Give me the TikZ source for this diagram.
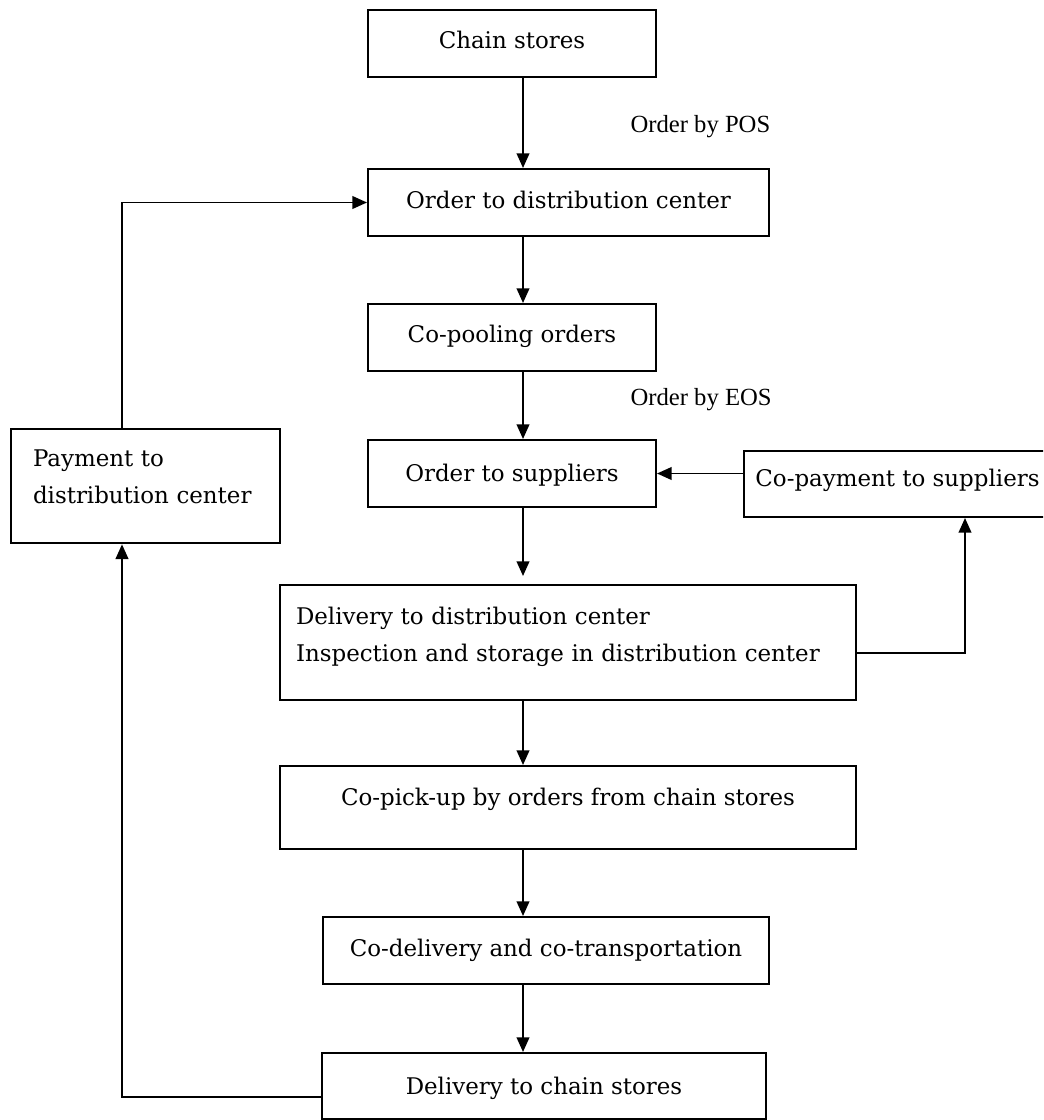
\documentclass[tikz,border=0pt]{standalone}
\usepackage{fontspec}
\setmainfont{DejaVu Serif}
\newfontfamily\lblfont{Liberation Serif}
\usetikzlibrary{arrows.meta}

\newcommand{\boxfont}{\fontsize{17.2}{28}\selectfont}
\newcommand{\notefont}{\lblfont\fontsize{18.5}{22}\selectfont}

\tikzset{every picture/.style={line width=0.75pt}}
\tikzset{
  box/.style={draw, line width=1.5pt, anchor=north west, inner xsep=0pt, inner ysep=0pt, font=\boxfont},
  flow/.style={line width=1.4pt, -{Triangle[length=11pt,width=9.5pt]}},
  note/.style={anchor=west, inner sep=0pt, font=\notefont}
}

\begin{document}
\begin{tikzpicture}[x=0.75pt,y=0.75pt,yscale=-1,xscale=1]
\useasboundingbox (0,0) rectangle (1043,1120);
\clip (0,0) rectangle (1043,1120);

%Coordinates for the connectors
\coordinate (spine) at (523,0);
\coordinate (lft) at (122,1097);
\coordinate (rgt) at (965,653);

%Shape: Rectangle
\node [box, minimum width=216pt, text height=29.25pt, text depth=21pt] (chain) at (367,9) {Chain stores};
%Shape: Rectangle
\node [box, minimum width=300.75pt, text height=30pt, text depth=20.25pt] (odc) at (367,168) {Order to distribution center};
%Shape: Rectangle
\node [box, minimum width=216pt, text height=28.5pt, text depth=21.75pt] (pool) at (367,303) {Co-pooling orders};
%Shape: Rectangle
\node [box, minimum width=216pt, text height=30.75pt, text depth=19.5pt] (ots) at (367,439) {Order to suppliers};
%Shape: Rectangle
\node [box, minimum width=230.25pt, text height=26.25pt, text depth=23.25pt] (copay) at (743,450) {Co-payment to suppliers};
%Shape: Rectangle
\node [box, inner xsep=16.5pt, text width=168.75pt, align=left, text height=27.75pt, text depth=58pt] (pay) at (10,428) {Payment to\\distribution~center};
%Shape: Rectangle
\node [box, inner xsep=12pt, text width=408pt, align=left, text height=29.25pt, text depth=57pt] (deliv) at (279,584) {Delivery to distribution center\\Inspection and storage in distribution center};
%Shape: Rectangle
\node [box, minimum width=432pt, text height=29.25pt, text depth=33pt] (pick) at (279,765) {Co-pick-up by orders from chain stores};
%Shape: Rectangle
\node [box, minimum width=334.5pt, text height=29.25pt, text depth=21pt] (codel) at (322,916) {Co-delivery and co-transportation};
%Shape: Rectangle
\node [box, minimum width=333pt, text height=30.75pt, text depth=18.75pt] (dcs) at (321,1052) {Delivery to chain stores};

% Text Node
\node [note] (pos) at (630,127) {Order by POS};
% Text Node
\node [note] (eos) at (630,400) {Order by EOS};

%Straight Lines
\draw [flow] (chain.south -| spine) -- (odc.north -| spine);
\draw [flow] (odc.south -| spine) -- (pool.north -| spine);
\draw [flow] (pool.south -| spine) -- (ots.north -| spine);
\draw [flow, shorten >=6pt] (ots.south -| spine) -- (deliv.north -| spine);
\draw [flow] (deliv.south -| spine) -- (pick.north -| spine);
\draw [flow] (pick.south -| spine) -- (codel.north -| spine);
\draw [flow] (codel.south -| spine) -- (dcs.north -| spine);
%Straight Lines
\draw [flow] (copay.west |- ots.east) -- (ots.east);
\draw [flow] (deliv.east |- rgt) -- (rgt) -- (rgt |- copay.south);
\draw [flow] (dcs.west |- lft) -- (lft) -- (lft |- pay.south);
\draw [flow] (pay.north -| lft) |- (odc.west);

\end{tikzpicture}
\end{document}
